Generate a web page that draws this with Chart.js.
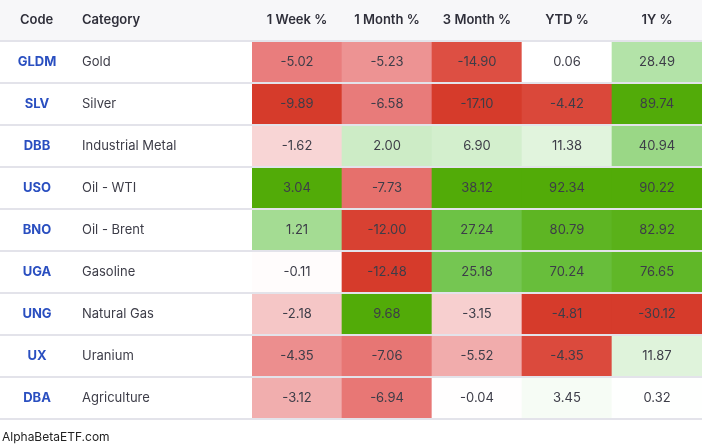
<!DOCTYPE html>
<html><head><meta charset="utf-8">
<script src="https://cdn.jsdelivr.net/npm/chart.js@4"></script>
<style>
html,body{margin:0;padding:0;background:#fff;}
#wrap{width:702px;height:446px;position:relative;}
</style></head>
<body><div id="wrap"><canvas id="heat"></canvas></div>
<script>
// 表格數據
const codes = ['GLDM','SLV','DBB','USO','BNO','UGA','UNG','UX','DBA'];
const categories = ['Gold','Silver','Industrial Metal','Oil - WTI','Oil - Brent','Gasoline','Natural Gas','Uranium','Agriculture'];
const periods = ['1 Week %','1 Month %','3 Month %','YTD %','1Y %'];
const week1 = [-5.02,-9.89,-1.62,3.04,1.21,-0.11,-2.18,-4.35,-3.12];
const month1 = [-5.23,-6.58,2.00,-7.73,-12.00,-12.48,9.68,-7.06,-6.94];
const month3 = [-14.90,-17.10,6.90,38.12,27.24,25.18,-3.15,-5.52,-0.04];
const ytd = [0.06,-4.42,11.38,92.34,80.79,70.24,-4.81,-4.35,3.45];
const year1 = [28.49,89.74,40.94,90.22,82.92,76.65,-30.12,11.87,0.32];
const cols = [week1, month1, month3, ytd, year1];

// 顏色插值
function mix(a, b, t) {
    return a.map((v, i) => Math.round(v + (b[i] - v) * t));
}
function ramp(stops, t) {
    for (let i = 1; i < stops.length; i++) {
        if (t <= stops[i][0]) {
            const s0 = stops[i - 1], s1 = stops[i];
            return mix(s0[1], s1[1], (t - s0[0]) / (s1[0] - s0[0]));
        }
    }
    return stops[stops.length - 1][1];
}
const redStops = [[0,[255,255,255]],[0.5,[233,126,126]],[0.8,[225,90,80]],[1,[214,59,43]]];
const greenStops = [[0,[255,255,255]],[0.3,[182,228,172]],[0.7,[110,195,72]],[1,[82,171,8]]];
function cellColor(v, col) {
    const max = Math.max(...col), min = Math.min(...col);
    const c = v >= 0 ? ramp(greenStops, max > 0 ? v / max : 0) : ramp(redStops, v / min);
    return `rgb(${c.join(',')})`;
}

const datasets = codes.map((code, r) => ({
    label: code,
    data: periods.map(() => [r, r + 1]),
    backgroundColor: cols.map(col => cellColor(col[r], col)),
    borderWidth: 0,
    barPercentage: 1,
    categoryPercentage: 1,
    grouped: false
}));

const FONT = 'Inter, "Noto Sans", sans-serif';

// 表頭、文字與分隔線
const tablePlugin = {
    id: 'table',
    beforeDatasetsDraw(chart) {
        const { ctx, scales: { y } } = chart;
        ctx.save();
        ctx.fillStyle = '#f7f7f9';
        ctx.fillRect(0, 0, chart.width, y.getPixelForValue(0));
        ctx.restore();
    },
    afterDatasetsDraw(chart) {
        const { ctx, scales: { x, y } } = chart;
        ctx.save();
        ctx.textBaseline = 'middle';
        const hy = y.getPixelForValue(0) / 2;
        ctx.font = `600 13px ${FONT}`;
        ctx.fillStyle = '#2f2f3a';
        ctx.textAlign = 'left';
        ctx.fillText('Code', 20, hy);
        ctx.fillText('Category', 82, hy);
        ctx.textAlign = 'center';
        periods.forEach((p, c) => ctx.fillText(p, x.getPixelForValue(c), hy));

        codes.forEach((code, r) => {
            const cy = y.getPixelForValue(r + 0.5);
            ctx.textAlign = 'center';
            ctx.font = `bold 13px ${FONT}`;
            ctx.fillStyle = '#2a4fc0';
            ctx.fillText(code, 37, cy);
            ctx.textAlign = 'left';
            ctx.font = `13px ${FONT}`;
            ctx.fillStyle = '#3d3d48';
            ctx.fillText(categories[r], 82, cy);
            ctx.textAlign = 'center';
            cols.forEach((col, c) => ctx.fillText(col[r].toFixed(2), x.getPixelForValue(c), cy));
        });

        ctx.fillStyle = '#e3e3ea';
        for (let r = 0; r <= codes.length; r++) {
            const ly = y.getPixelForValue(r);
            ctx.fillRect(0, ly - 1, chart.width, 2);
        }
        ctx.font = `12px ${FONT}`;
        ctx.fillStyle = '#222';
        ctx.textAlign = 'left';
        ctx.fillText('AlphaBetaETF.com', 2, chart.height - 9);
        ctx.restore();
    }
};

new Chart(document.getElementById('heat'), {
    type: 'bar',
    data: { labels: periods, datasets },
    options: {
        responsive: true,
        maintainAspectRatio: false,
        animation: false,
        layout: { padding: { left: 252, top: 41, bottom: 27, right: 0 } },
        plugins: { legend: { display: false }, tooltip: { enabled: false } },
        scales: {
            x: { display: false },
            y: { display: false, min: 0, max: codes.length, reverse: true }
        }
    },
    plugins: [tablePlugin]
});
</script>
</body></html>
